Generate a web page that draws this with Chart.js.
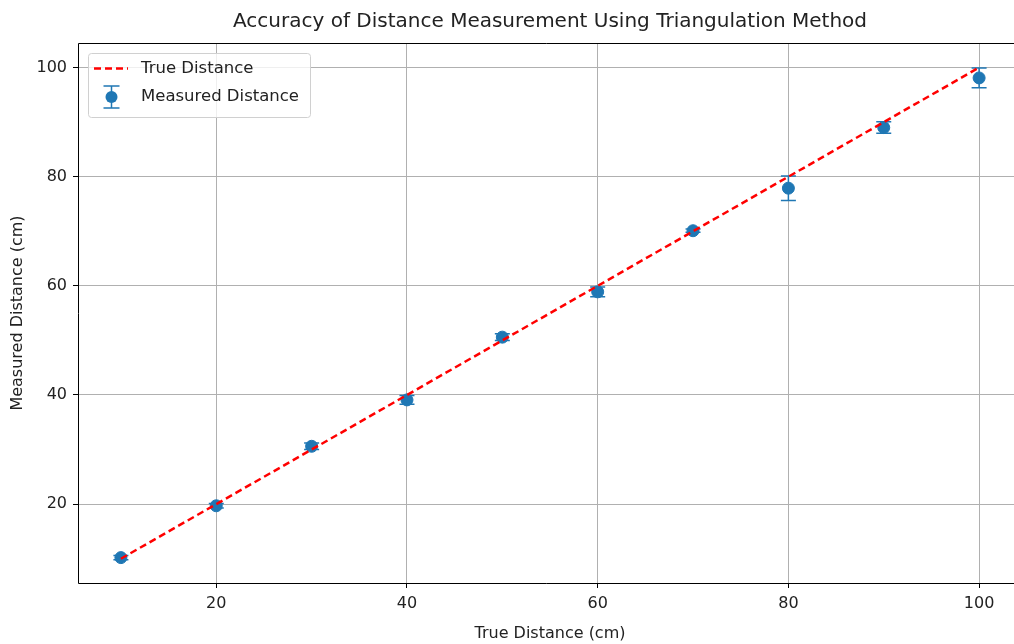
<!DOCTYPE html>
<html>
<head>
<meta charset="utf-8">
<script src="https://cdn.jsdelivr.net/npm/chart.js"></script>
<style>
  html, body { margin: 0; padding: 0; background: #fff; overflow: hidden; }
</style>
</head>
<body>
<canvas id="myChart" width="1014" height="644"></canvas>
<script>
// data
const trueDistance = [10, 20, 30, 40, 50, 60, 70, 80, 90, 100];
const measuredDistance = [10.2, 19.7, 30.6, 39.1, 50.6, 58.9, 70.1, 77.9, 89.0, 98.1];
const measuredError = [0.4, 0.4, 0.6, 0.8, 0.6, 0.9, 0.3, 2.25, 1.05, 1.8];
const xTicks = [20, 40, 60, 80, 100];
const yTicks = [20, 40, 60, 80, 100];

const FONT = "'DejaVu Sans', sans-serif";
const BLUE = '#1f77b4';
const RED = '#ff0000';

// vertical error bars with caps, drawn under the markers
const errorBars = {
    id: 'errorBars',
    beforeDatasetsDraw(chart) {
        const {ctx, scales: {x, y}} = chart;
        ctx.save();
        ctx.strokeStyle = BLUE;
        ctx.lineWidth = 1.5;
        trueDistance.forEach((d, i) => {
            const px = x.getPixelForValue(d);
            const top = y.getPixelForValue(measuredDistance[i] + measuredError[i]);
            const bot = y.getPixelForValue(measuredDistance[i] - measuredError[i]);
            ctx.beginPath();
            ctx.moveTo(px, top); ctx.lineTo(px, bot);
            ctx.moveTo(px - 7.5, top); ctx.lineTo(px + 7.5, top);
            ctx.moveTo(px - 7.5, bot); ctx.lineTo(px + 7.5, bot);
            ctx.stroke();
        });
        ctx.restore();
    }
};

// box round the plot (right side is cut off like the reference), title, legend
const decorations = {
    id: 'decorations',
    afterDraw(chart) {
        const {ctx, chartArea: a} = chart;
        ctx.save();
        ctx.strokeStyle = '#000';
        ctx.lineWidth = 1;
        ctx.beginPath();
        ctx.moveTo(chart.width, a.top + 0.5);
        ctx.lineTo(a.left + 0.5, a.top + 0.5);
        ctx.lineTo(a.left + 0.5, a.bottom + 0.5);
        ctx.lineTo(chart.width, a.bottom + 0.5);
        ctx.stroke();

        ctx.fillStyle = '#222';
        ctx.font = '20px ' + FONT;
        ctx.textAlign = 'center';
        ctx.textBaseline = 'middle';
        // centred on the full (uncropped) plot width
        ctx.fillText('Accuracy of Distance Measurement Using Triangulation Method', 550, 22);
        ctx.font = '16px ' + FONT;
        ctx.fillText('True Distance (cm)', 550, 634);

        // legend
        ctx.beginPath();
        ctx.roundRect(88.5, 53.5, 222, 64, 3);
        ctx.fillStyle = 'rgba(255,255,255,0.8)';
        ctx.fill();
        ctx.strokeStyle = '#d0d0d0';
        ctx.stroke();

        ctx.setLineDash([7, 4]);
        ctx.strokeStyle = RED;
        ctx.lineWidth = 2.5;
        ctx.beginPath();
        ctx.moveTo(94, 68.5); ctx.lineTo(128, 68.5);
        ctx.stroke();
        ctx.setLineDash([]);

        ctx.strokeStyle = BLUE;
        ctx.lineWidth = 1.5;
        ctx.beginPath();
        ctx.moveTo(111.5, 86); ctx.lineTo(111.5, 108);
        ctx.moveTo(103.5, 86); ctx.lineTo(119.5, 86);
        ctx.moveTo(103.5, 108); ctx.lineTo(119.5, 108);
        ctx.stroke();
        ctx.fillStyle = BLUE;
        ctx.beginPath();
        ctx.arc(111.5, 97, 6, 0, Math.PI * 2);
        ctx.fill();

        ctx.fillStyle = '#222';
        ctx.font = '16.5px ' + FONT;
        ctx.textAlign = 'left';
        ctx.fillText('True Distance', 141, 69);
        ctx.fillText('Measured Distance', 141, 97);
        ctx.restore();
    }
};

const chartConfig = {
    type: 'scatter',
    data: {
        datasets: [
            {
                label: 'True Distance',
                type: 'line',
                data: trueDistance.map(d => ({x: d, y: d})),
                borderColor: RED,
                borderWidth: 2.5,
                borderDash: [7, 4],
                pointRadius: 0,
                fill: false,
                order: 1
            },
            {
                label: 'Measured Distance',
                data: trueDistance.map((d, i) => ({x: d, y: measuredDistance[i]})),
                backgroundColor: BLUE,
                borderColor: BLUE,
                pointRadius: 6,
                order: 2
            }
        ]
    },
    options: {
        responsive: false,
        animation: false,
        layout: {autoPadding: false, padding: {top: 43, right: 0, left: 0, bottom: 0}},
        plugins: {
            legend: {display: false},
            title: {display: false},
            tooltip: {enabled: false}
        },
        scales: {
            x: {
                type: 'linear',
                min: 5.5,
                max: 103.66,   // the reference is cropped just short of the right spine
                afterBuildTicks: s => { s.ticks = xTicks.map(v => ({value: v})); },
                afterFit: s => { s.height = 61; s.paddingLeft = 0; s.paddingRight = 0; },
                grid: {color: '#b0b0b0', lineWidth: 1, tickLength: 5, tickColor: '#000'},
                border: {display: false},
                ticks: {color: '#222', font: {family: FONT, size: 16}, padding: 6, maxRotation: 0},
                title: {display: false}
            },
            y: {
                type: 'linear',
                min: 5.55,
                max: 104.5,
                afterBuildTicks: s => { s.ticks = yTicks.map(v => ({value: v})); },
                afterFit: s => { s.width = 78; s.paddingTop = 0; s.paddingBottom = 0; },
                grid: {color: '#b0b0b0', lineWidth: 1, tickLength: 5, tickColor: '#000'},
                border: {display: false},
                ticks: {color: '#222', font: {family: FONT, size: 16}, padding: 6},
                title: {display: true, text: 'Measured Distance (cm)', color: '#222',
                        font: {family: FONT, size: 16}, padding: {top: 8, bottom: 0}}
            }
        }
    },
    plugins: [errorBars, decorations]
};

new Chart(document.getElementById('myChart'), chartConfig);
</script>
</body>
</html>
